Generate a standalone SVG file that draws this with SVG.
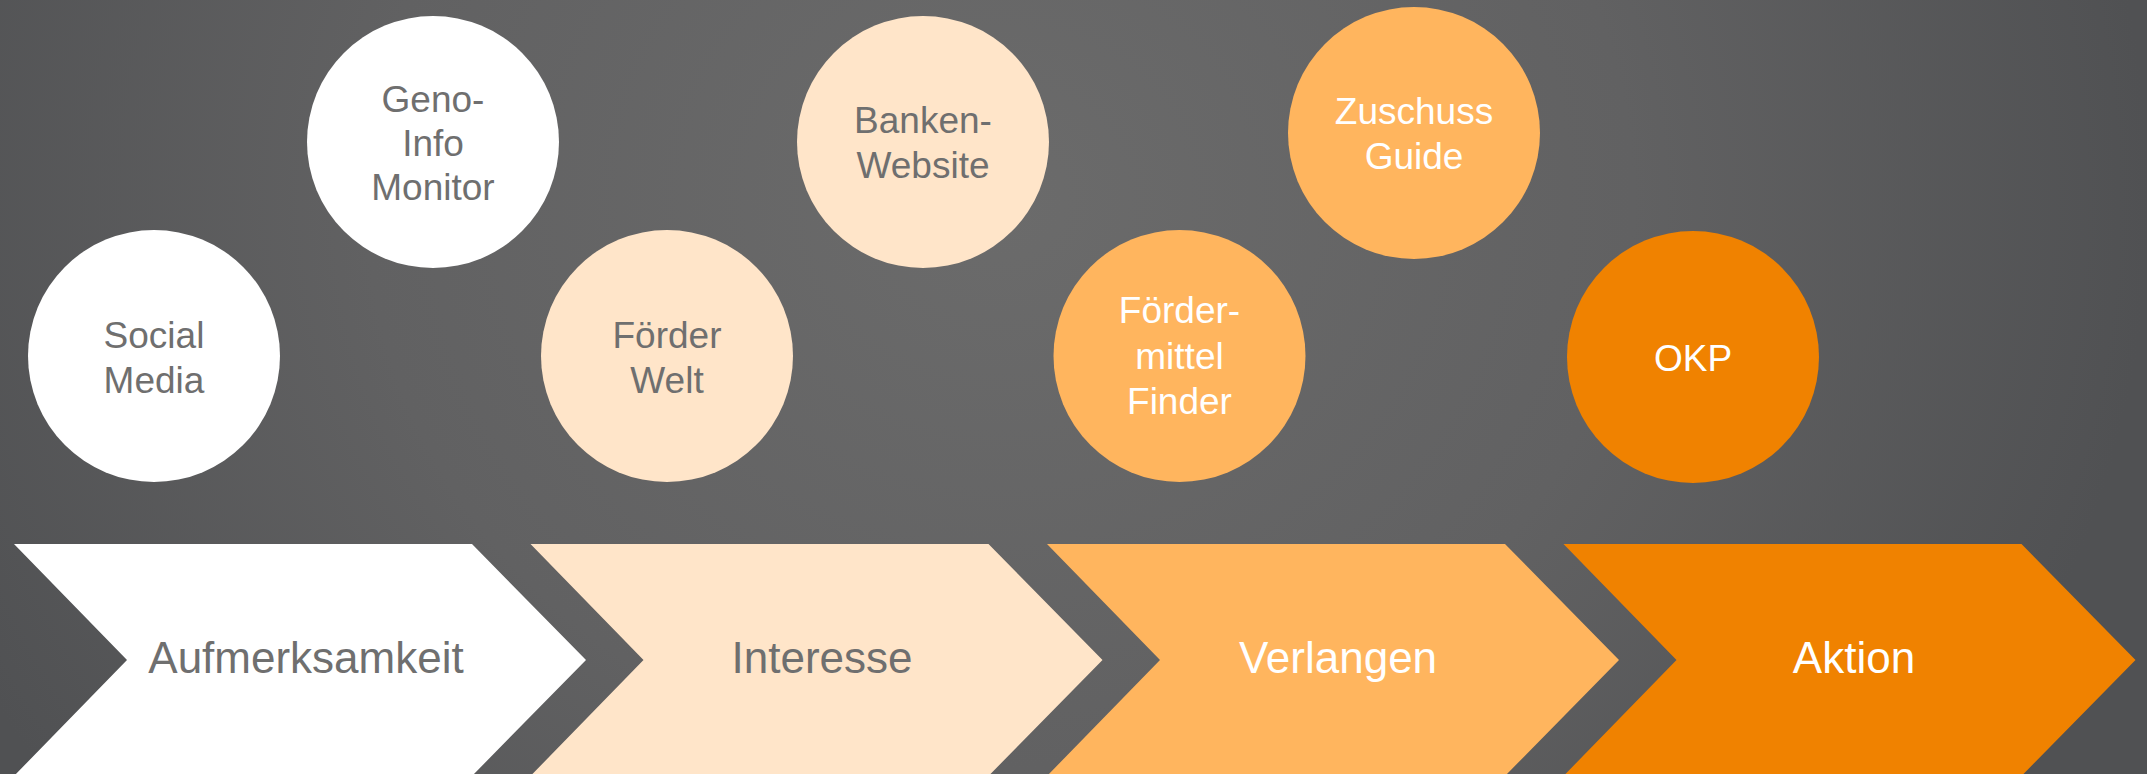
<svg xmlns="http://www.w3.org/2000/svg" width="2147" height="774" viewBox="0 0 2147 774">
  <defs>
    <radialGradient id="bg" cx="1000" cy="200" r="1150" gradientUnits="userSpaceOnUse" gradientTransform="translate(1000 200) scale(1 0.9) translate(-1000 -200)">
      <stop offset="0" stop-color="#6b6b6b"/>
      <stop offset="0.55" stop-color="#616162"/>
      <stop offset="1" stop-color="#505153"/>
    </radialGradient>
  </defs>
  <style>
    .lbl { font-family: "Liberation Sans", Arial, sans-serif; text-anchor: middle; }
    .c { font-size: 37px; }
    .s { font-size: 44px; }
    .gray { fill: #6f6f6f; }
    .wht { fill: #ffffff; }
    .f1 { fill: #ffffff; }
    .f2 { fill: #ffe5c9; }
    .f3 { fill: #ffb55e; }
    .f4 { fill: #f08200; }
  </style>
  <rect x="0" y="0" width="2147" height="774" fill="url(#bg)"/>

  <g id="stages">
    <g id="stage-aufmerksamkeit">
      <polygon class="f1" points="14,544 472,544 586,660 472,776 14,776 127,660"/>
      <text class="lbl s gray" x="306" y="673">Aufmerksamkeit</text>
    </g>
    <g id="stage-interesse">
      <polygon class="f2" points="530.5,544 988.5,544 1102.5,660 988.5,776 530.5,776 643.5,660"/>
      <text class="lbl s gray" x="822" y="673">Interesse</text>
    </g>
    <g id="stage-verlangen">
      <polygon class="f3" points="1047,544 1505,544 1619,660 1505,776 1047,776 1160,660"/>
      <text class="lbl s wht" x="1338" y="673">Verlangen</text>
    </g>
    <g id="stage-aktion">
      <polygon class="f4" points="1563.5,544 2021.5,544 2135.5,660 2021.5,776 1563.5,776 1676.5,660"/>
      <text class="lbl s wht" x="1854" y="673">Aktion</text>
    </g>
  </g>

  <g id="connectors"></g>

  <g id="node-social-media">
    <circle class="f1" cx="154" cy="356" r="126"/>
    <text class="lbl c gray" x="154" y="348">Social</text>
    <text class="lbl c gray" x="154" y="393">Media</text>
  </g>
  <g id="node-geno-info-monitor">
    <circle class="f1" cx="433" cy="142" r="126"/>
    <text class="lbl c gray" x="433" y="112">Geno-</text>
    <text class="lbl c gray" x="433" y="156">Info</text>
    <text class="lbl c gray" x="433" y="200">Monitor</text>
  </g>
  <g id="node-foerder-welt">
    <circle class="f2" cx="667" cy="356" r="126"/>
    <text class="lbl c gray" x="667" y="348">Förder</text>
    <text class="lbl c gray" x="667" y="393">Welt</text>
  </g>
  <g id="node-banken-website">
    <circle class="f2" cx="923" cy="142" r="126"/>
    <text class="lbl c gray" x="923" y="133">Banken-</text>
    <text class="lbl c gray" x="923" y="178">Website</text>
  </g>
  <g id="node-foerdermittel-finder">
    <circle class="f3" cx="1179.5" cy="356" r="126"/>
    <text class="lbl c wht" x="1179.5" y="323">Förder-</text>
    <text class="lbl c wht" x="1179.5" y="369">mittel</text>
    <text class="lbl c wht" x="1179.5" y="414">Finder</text>
  </g>
  <g id="node-zuschuss-guide">
    <circle class="f3" cx="1414" cy="133" r="126"/>
    <text class="lbl c wht" x="1414" y="124">Zuschuss</text>
    <text class="lbl c wht" x="1414" y="169">Guide</text>
  </g>
  <g id="node-okp">
    <circle class="f4" cx="1693" cy="357" r="126"/>
    <text class="lbl c wht" x="1693" y="371">OKP</text>
  </g>
</svg>
